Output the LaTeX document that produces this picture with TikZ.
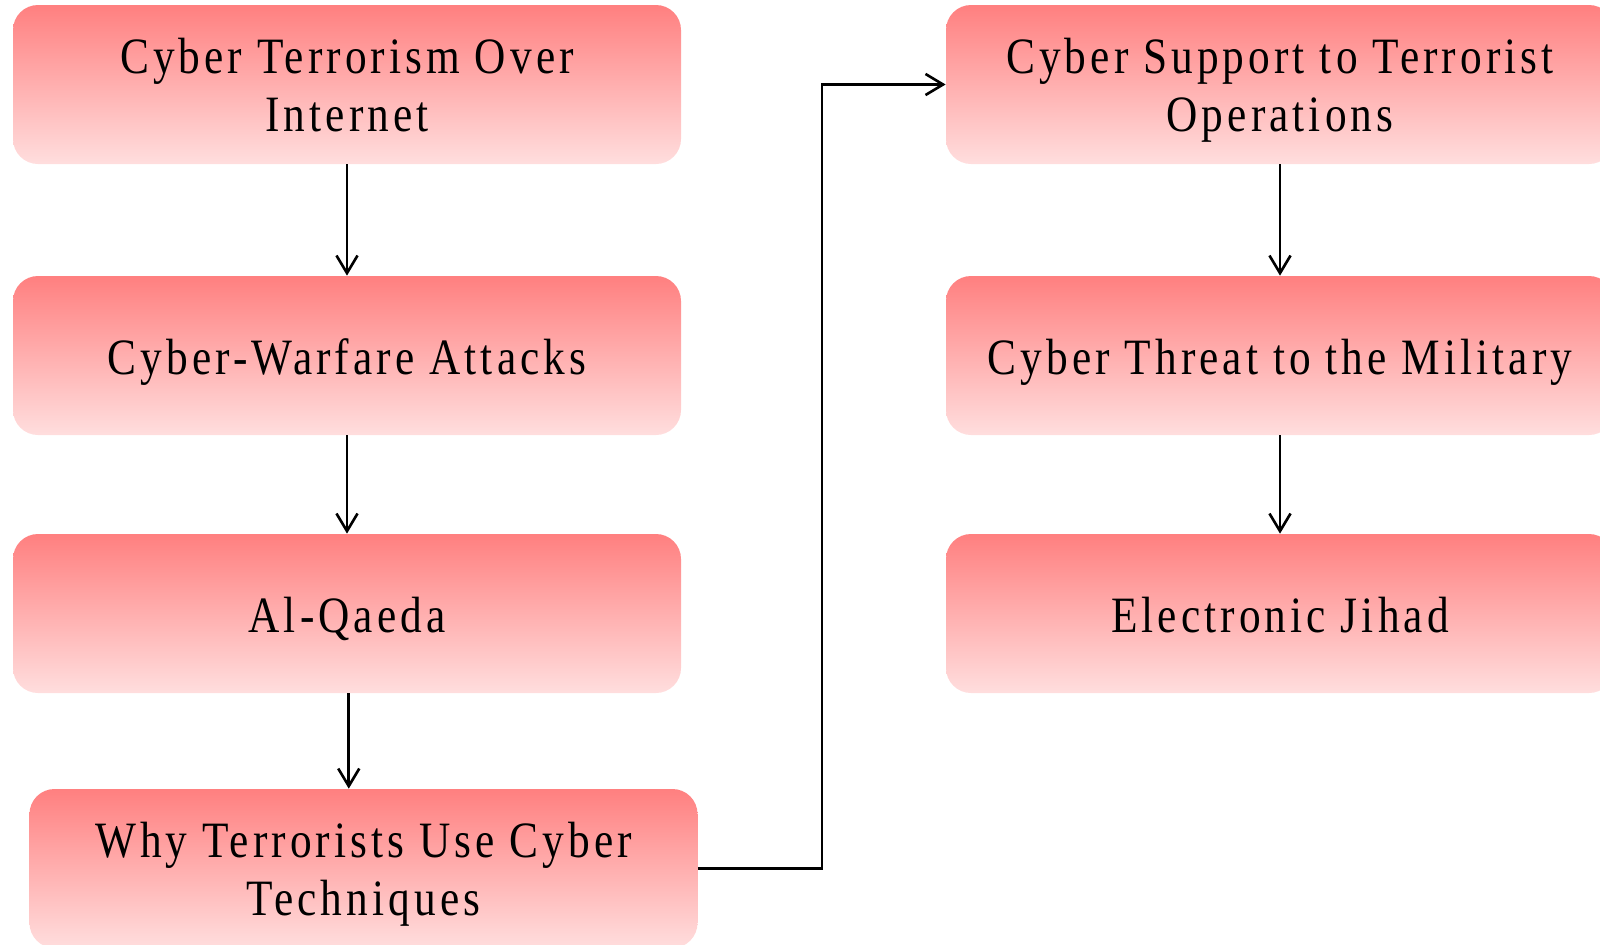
\documentclass[tikz,border=0pt]{standalone}
\usepackage{fontspec}
\setmainfont{Liberation Serif}[FakeStretch=0.85,LetterSpace=8]
\usetikzlibrary{arrows.meta}
\begin{document}
\begin{tikzpicture}[
    topicbox/.style={rounded corners=0.5cm, top color=red!50, bottom color=red!13,
        draw=none, minimum width=13.36cm, minimum height=3.18cm, inner sep=0pt,
        align=center, font=\fontsize{29}{33}\selectfont, text depth=7pt,
        execute at begin node={\rule{0pt}{29pt}}},
    twoline/.style={topicbox, text depth=0pt},
    flow/.style={-{Straight Barb[length=10pt,width=12pt]}, line width=1.5pt, black}]
    \useasboundingbox (0,0) rectangle (32,-18.9);
    % left column
    \node (terror) at (6.94,-1.69) [twoline] {Cyber Terrorism Over\\Internet};
    \node (warfare) at (6.94,-7.11) [topicbox] {Cyber-Warfare Attacks};
    \node (qaeda) at (6.94,-12.27) [topicbox] {Al-Qaeda};
    \node (why) at (7.27,-17.37) [twoline] {Why Terrorists Use Cyber\\Techniques};
    % right column
    \node (support) at (25.6,-1.69) [twoline] {Cyber Support to Terrorist\\Operations};
    \node (military) at (25.6,-7.11) [topicbox] {Cyber Threat to the Military};
    \node (jihad) at (25.6,-12.27) [topicbox] {Electronic Jihad};
    \draw [flow] (terror) -- (warfare);
    \draw [flow] (warfare) -- (qaeda);
    \draw [flow] ([xshift=1pt]qaeda.south) -- ([xshift=1pt]qaeda.south |- why.north);
    \draw [flow] (why.east) -- ++(2.48,0) |- (support.west);
    \draw [flow] (support) -- (military);
    \draw [flow] (military) -- (jihad);
\end{tikzpicture}
\end{document}
